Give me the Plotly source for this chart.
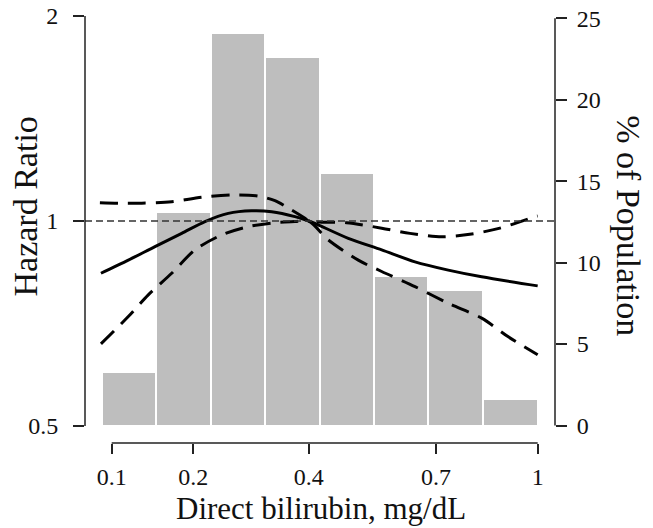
import numpy as np
import plotly.graph_objects as go

# ---------------- data ----------------
# histogram of direct bilirubin (% of population), bin edges in mg/dL
bin_edges = [0.09, 0.15, 0.226, 0.317, 0.423, 0.543, 0.680, 0.833, 1.0]
pct_population = [3.3, 13.1, 24.1, 22.6, 15.5, 9.2, 8.3, 1.6]

# hazard ratio spline (solid)
hr_x = [0.0894, 0.1176, 0.1488, 0.1837, 0.2171, 0.2534, 0.2926, 0.3283, 0.3726,
        0.40, 0.4128, 0.4844, 0.5619, 0.6449, 0.7336, 0.8283, 1.0]
hr_y = [0.838, 0.876, 0.917, 0.959, 0.998, 1.026, 1.035, 1.032, 1.015,
        1.0, 0.992, 0.943, 0.907, 0.871, 0.847, 0.828, 0.803]

# upper 95% CI (dashed)
up_x = [0.0884, 0.1068, 0.1328, 0.1702, 0.2122, 0.2643, 0.3042, 0.3344, 0.3661, 0.3925,
        0.40, 0.4808, 0.5619, 0.6320, 0.7155, 0.7994, 0.8826, 0.9700, 1.0]
up_y = [1.064, 1.062, 1.062, 1.067, 1.084, 1.092, 1.088, 1.071, 1.038, 1.009,
        1.0, 0.994, 0.976, 0.959, 0.948, 0.957, 0.976, 1.007, 1.017]

# lower 95% CI (dashed)
lo_x = [0.0894, 0.1176, 0.1406, 0.1702, 0.2024, 0.2429, 0.2868, 0.3344, 0.3726,
        0.40, 0.4407, 0.5070, 0.5619, 0.6449, 0.7336, 0.8283, 0.9079, 1.0]
lo_y = [0.660, 0.724, 0.779, 0.838, 0.907, 0.954, 0.981, 0.994, 0.998,
        1.0, 0.938, 0.876, 0.843, 0.801, 0.757, 0.720, 0.676, 0.636]

x_tick_vals = [0.1, 0.2, 0.4, 0.7, 1]
x_tick_text = ["0.1", "0.2", "0.4", "0.7", "1"]
hr_tick_vals = [0.5, 1, 2]
hr_tick_text = ["0.5", "1", "2"]
pct_tick_vals = [0, 5, 10, 15, 20, 25]

# ---------------- figure ----------------
tr = np.sqrt  # square-root x scale
edges = tr(np.array(bin_edges))
centers = (edges[:-1] + edges[1:]) / 2
widths = edges[1:] - edges[:-1]

FONT = "Liberation Serif, Times New Roman, serif"
fig = go.Figure()

fig.add_trace(go.Bar(
    x=centers, y=pct_population, width=widths, yaxis="y",
    marker=dict(color="#BEBEBE", line=dict(color="white", width=2)),
    showlegend=False, hoverinfo="skip"))

fig.add_trace(go.Scatter(
    x=tr(np.array(up_x)), y=up_y, yaxis="y2", mode="lines",
    line=dict(color="black", width=3, dash="18px,10px", shape="spline", smoothing=0.8),
    showlegend=False))
fig.add_trace(go.Scatter(
    x=tr(np.array(lo_x)), y=lo_y, yaxis="y2", mode="lines",
    line=dict(color="black", width=3, dash="18px,10px", shape="spline", smoothing=0.8),
    showlegend=False))
fig.add_trace(go.Scatter(
    x=tr(np.array(hr_x)), y=hr_y, yaxis="y2", mode="lines",
    line=dict(color="black", width=3, shape="spline", smoothing=0.8),
    showlegend=False))

shapes = [
    # reference line HR = 1
    dict(type="line", xref="paper", x0=0, x1=1, yref="y2", y0=1, y1=1,
         line=dict(color="#333333", width=1.3, dash="7px,4px"), layer="above"),
    # x axis line
    dict(type="line", xref="x", x0=tr(0.1), x1=tr(1.0), yref="paper", y0=0, y1=0,
         line=dict(color="#222222", width=1.5)),
    # left axis line
    dict(type="line", xref="paper", x0=0, x1=0, yref="y2", y0=0.5, y1=2,
         line=dict(color="#222222", width=1.5)),
    # right axis line
    dict(type="line", xref="paper", x0=1, x1=1, yref="y", y0=0, y1=25,
         line=dict(color="#222222", width=1.5)),
]

annotations = [
    dict(text="Direct bilirubin, mg/dL", xref="paper", yref="paper", x=0.503, y=-0.152,
         xanchor="center", yanchor="middle", showarrow=False,
         font=dict(family=FONT, size=31, color="#111111")),
    dict(text="Hazard Ratio", xref="paper", yref="paper", x=-0.127, y=0.547,
         xanchor="center", yanchor="middle", showarrow=False, textangle=-90,
         font=dict(family=FONT, size=34, color="#111111")),
    dict(text="% of Population", xref="paper", yref="paper", x=1.157, y=0.501,
         xanchor="center", yanchor="middle", showarrow=False, textangle=90,
         font=dict(family=FONT, size=34, color="#111111")),
]

fig.update_layout(
    width=653, height=528,
    margin=dict(l=85, r=98, t=10, b=85, autoexpand=False),
    paper_bgcolor="white", plot_bgcolor="white",
    font=dict(family=FONT, size=24, color="#111111"),
    bargap=0,
    xaxis=dict(range=[0.2734, 1.0278], tickvals=list(tr(np.array(x_tick_vals))),
               ticktext=x_tick_text, ticks="outside", ticklen=10, tickwidth=1.5,
               tickcolor="#222222", showgrid=False, zeroline=False, showline=False,
               ticklabelstandoff=2, automargin=False, ticklabeloverflow="allow"),
    yaxis=dict(side="right", range=[-1.074, 25.51], tickvals=pct_tick_vals,
               ticks="outside", ticklen=11, tickwidth=1.5, tickcolor="#222222",
               showgrid=False, zeroline=False, showline=False, ticklabelstandoff=5,
               automargin=False, ticklabeloverflow="allow"),
    yaxis2=dict(overlaying="y", side="left", type="log", range=[-0.3260, 0.3098],
                tickvals=hr_tick_vals, ticktext=hr_tick_text, ticks="outside",
                ticklen=11, tickwidth=1.5, tickcolor="#222222", showgrid=False,
                zeroline=False, showline=False, ticklabelstandoff=10, automargin=False,
                ticklabeloverflow="allow"),
    shapes=shapes, annotations=annotations,
)

fig.write_html("out.html",
               config={"displayModeBar": False},
               post_script="document.body.style.margin='0';document.body.style.overflow='hidden';")
